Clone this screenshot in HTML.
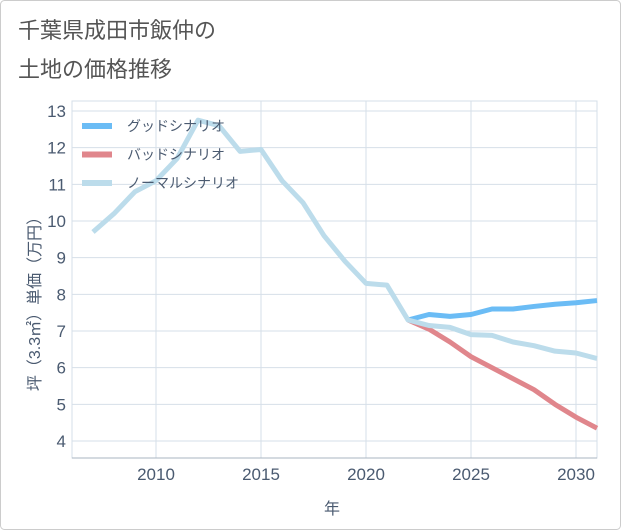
<!DOCTYPE html>
<html><head><meta charset="utf-8"><style>
body{margin:0;background:#fff;}
svg{display:block;font-family:"Liberation Sans","Noto Sans CJK JP",sans-serif;}
</style></head><body>
<svg width="621" height="530">
<rect x="0.5" y="0.5" width="620" height="529" rx="4" fill="#fff" stroke="#ccc"/>
<text x="18" y="38" font-size="22" fill="#555">千葉県成田市飯仲の</text>
<text x="18" y="77" font-size="22" fill="#555">土地の価格推移</text>
<g id="grid"></g>
<g id="series"></g>
<g id="legend"></g>
<text x="332" y="514" font-size="16" fill="#4a5a70" text-anchor="middle">年</text>
<text transform="translate(40,300) rotate(-90)" font-size="16" fill="#4a5a70" text-anchor="middle">坪（3.3㎡）単価（万円）</text>
</svg>
<script>
const years=[2007,2008,2009,2010,2011,2012,2013,2014,2015,2016,2017,2018,2019,2020,2021,2022,2023,2024,2025,2026,2027,2028,2029,2030,2031];
const normal=[9.7,10.2,10.8,11.1,11.7,12.75,12.6,11.9,11.95,11.1,10.5,9.6,8.9,8.3,8.25,7.3,7.15,7.1,6.9,6.88,6.7,6.6,6.45,6.4,6.25];
const futureYears=[2022,2023,2024,2025,2026,2027,2028,2029,2030,2031];
const good=[7.3,7.45,7.4,7.45,7.6,7.6,7.67,7.73,7.77,7.83];
const bad=[7.3,7.05,6.7,6.3,6.0,5.7,5.4,5.0,4.65,4.35];
const yTicks=[4,5,6,7,8,9,10,11,12,13];
const xTicks=[2010,2015,2020,2025,2030];
const legendLabels=["グッドシナリオ","バッドシナリオ","ノーマルシナリオ"];
const colors=["#6bbcf5","#e0868c","#bcdceb"];
const L=72,R=597,T=101,B=458;
const xs=v=>156+(v-2010)*21;
const ys=v=>441-(v-4)*(330/9);
const NS="http://www.w3.org/2000/svg";
function mk(tag,attrs,parent){const e=document.createElementNS(NS,tag);for(const k in attrs)e.setAttribute(k,attrs[k]);parent.appendChild(e);return e;}
const g=document.getElementById('grid');
const frame=mk('rect',{x:L,y:T,width:R-L,height:B-T,fill:'none',stroke:'#d6dfe8'},g);


yTicks.forEach(v=>{
 const l=mk('line',{x1:L,x2:R,y1:ys(v),y2:ys(v),stroke:'#d6dfe8'},g);
 
 
 const t=mk('text',{x:L-6,y:ys(v)+6,'font-size':17,fill:'#4a5a70','text-anchor':'end'},g);
 t.textContent=v;
 
 
});
xTicks.forEach(v=>{
 const l=mk('line',{x1:xs(v),x2:xs(v),y1:T,y2:B,stroke:'#d6dfe8'},g);
 
 
 const t=mk('text',{x:xs(v),y:B+22,'font-size':17,fill:'#4a5a70','text-anchor':'middle'},g);
 t.textContent=v;
 
 
});
const ax=mk('line',{x1:L,x2:R,y1:B,y2:B,stroke:'#aab4c0'},g);


const s=document.getElementById('series');
function line(xv,yv,c,name){
 const p=mk('polyline',{points:xv.map((x,i)=>xs(x)+','+ys(yv[i])).join(' '),fill:'none',stroke:c,'stroke-width':5,'stroke-linejoin':'round'},s);
 
 
}
line(futureYears,bad,colors[1],'bad-scenario-line');
line(futureYears,good,colors[0],'good-scenario-line');
line(years,normal,colors[2],'normal-scenario-line');
const lg=document.getElementById('legend');
legendLabels.forEach((lab,i)=>{
 const y=126+i*28.5;
 const l=mk('line',{x1:82,x2:112,y1:y,y2:y,stroke:colors[i],'stroke-width':6},lg);
 
 
 const t=mk('text',{x:127,y:y+5,'font-size':14,fill:'#4a5a70'},lg);
 t.textContent=lab;
 
 
});
</script>
</body></html>
